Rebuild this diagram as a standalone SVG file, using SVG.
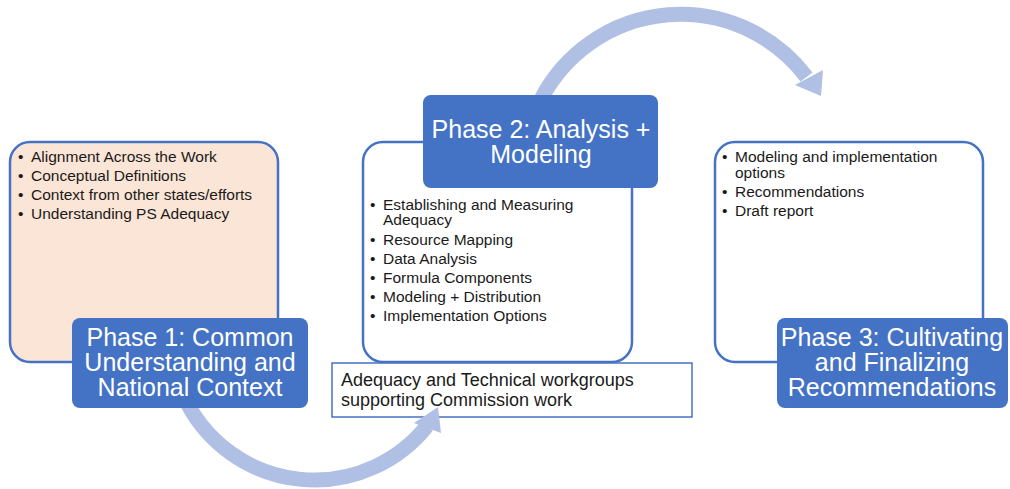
<svg xmlns="http://www.w3.org/2000/svg" width="1010" height="489" viewBox="0 0 1010 489">
  <style>
    .panel { fill: #ffffff; stroke: #4472C4; stroke-width: 2.5; }
    .panel-warm { fill: #FBE5D6; }
    .phase { fill: #4472C4; }
    .phase-text { font-family: "Liberation Sans", Arial, sans-serif; font-size: 25px; fill: #ffffff; text-anchor: middle; }
    .item { font-family: "Liberation Sans", Arial, sans-serif; font-size: 15.5px; fill: #1a1a1a; }
    .note { fill: #ffffff; stroke: #4472C4; stroke-width: 1.5; }
    .note-text { font-family: "Liberation Sans", Arial, sans-serif; font-size: 18px; fill: #1a1a1a; }
    .flow { fill: none; stroke: #B0C0E4; stroke-width: 15; }
    .flow-head { fill: #B0C0E4; }
  </style>

  <rect width="1010" height="489" fill="#ffffff"/>

  <!-- Phase 1 content panel -->
  <g id="phase1-panel">
    <rect class="panel panel-warm" x="10" y="142" width="268" height="220" rx="20"/>
    <text class="item" x="18" y="162">•</text><text class="item" x="31" y="162">Alignment Across the Work</text>
    <text class="item" x="18" y="181">•</text><text class="item" x="31" y="181">Conceptual Definitions</text>
    <text class="item" x="18" y="200">•</text><text class="item" x="31" y="200">Context from other states/efforts</text>
    <text class="item" x="18" y="219">•</text><text class="item" x="31" y="219">Understanding PS Adequacy</text>
  </g>

  <!-- Phase 2 content panel -->
  <g id="phase2-panel">
    <rect class="panel" x="363" y="142" width="269" height="220" rx="20"/>
    <text class="item" x="370" y="210">•</text><text class="item" x="383" y="210">Establishing and Measuring</text>
    <text class="item" x="383" y="225">Adequacy</text>
    <text class="item" x="370" y="245">•</text><text class="item" x="383" y="245">Resource Mapping</text>
    <text class="item" x="370" y="264">•</text><text class="item" x="383" y="264">Data Analysis</text>
    <text class="item" x="370" y="283">•</text><text class="item" x="383" y="283">Formula Components</text>
    <text class="item" x="370" y="302">•</text><text class="item" x="383" y="302">Modeling + Distribution</text>
    <text class="item" x="370" y="321">•</text><text class="item" x="383" y="321">Implementation Options</text>
  </g>

  <!-- Phase 3 content panel -->
  <g id="phase3-panel">
    <rect class="panel" x="715" y="142" width="268" height="220" rx="20"/>
    <text class="item" x="722" y="162">•</text><text class="item" x="735" y="162">Modeling and implementation</text>
    <text class="item" x="735" y="178">options</text>
    <text class="item" x="722" y="197">•</text><text class="item" x="735" y="197">Recommendations</text>
    <text class="item" x="722" y="216">•</text><text class="item" x="735" y="216">Draft report</text>
  </g>

  <!-- Workgroups note under Phase 2 -->
  <g id="workgroups">
    <rect class="note" x="332" y="363" width="360" height="54"/>
    <text class="note-text" x="341" y="386">Adequacy and Technical workgroups</text>
    <text class="note-text" x="341" y="406">supporting Commission work</text>
  </g>

  <!-- Curved flow arrows between phases -->
  <g id="connectors">
    <path class="flow" d="M187.1,403 A144,144 0 0 0 427,426"/>
    <polygon class="flow-head" points="414,423 441,433 438,407"/>
    <path class="flow" d="M541.7,98 A157.5,157.5 0 0 1 806.6,77"/>
    <polygon class="flow-head" points="795,85 823,70 821,96"/>
  </g>

  <!-- Phase title labels -->
  <g id="phase1-label">
    <rect class="phase" x="72" y="318" width="236" height="90" rx="8"/>
    <text class="phase-text" x="190" y="346">Phase 1: Common</text>
    <text class="phase-text" x="190" y="371">Understanding and</text>
    <text class="phase-text" x="190" y="396">National Context</text>
  </g>

  <g id="phase2-label">
    <rect class="phase" x="423" y="95" width="235" height="93" rx="8"/>
    <text class="phase-text" x="541" y="138">Phase 2: Analysis +</text>
    <text class="phase-text" x="541" y="163">Modeling</text>
  </g>

  <g id="phase3-label">
    <rect class="phase" x="777" y="318" width="231" height="90" rx="8"/>
    <text class="phase-text" x="892" y="346">Phase 3: Cultivating</text>
    <text class="phase-text" x="892" y="371">and Finalizing</text>
    <text class="phase-text" x="892" y="396">Recommendations</text>
  </g>
</svg>
